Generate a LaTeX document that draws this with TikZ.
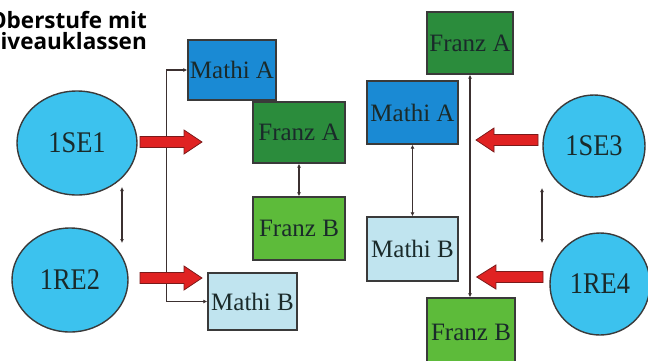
\documentclass[tikz,border=0pt]{standalone}
\usepackage{fontspec}
\setmainfont{Liberation Serif}
\newfontfamily\titlefont{Open Sans}
\usetikzlibrary{arrows.meta,shapes.geometric}
\definecolor{mblue}{HTML}{1A8AD4}
\definecolor{dgreen}{HTML}{2B8C3C}
\definecolor{lgreen}{HTML}{5DBB3A}
\definecolor{lblue}{HTML}{C0E4EF}
\definecolor{cyanfill}{HTML}{3CC2EE}
\definecolor{edge}{HTML}{3A3A3A}
\definecolor{lnk}{HTML}{3B3030}
\definecolor{arrred}{HTML}{E02222}
\definecolor{arrline}{HTML}{7A1A1A}
\definecolor{txt}{HTML}{1A2A2A}
\begin{document}
\begin{tikzpicture}[x=1pt,y=-1pt,
  box/.style={draw=edge,line width=1.4pt,inner sep=0pt,text=txt,
    font=\fontsize{25}{27}\selectfont},
  circ/.style={ellipse,draw=edge,line width=1.4pt,fill=cyanfill,inner sep=0pt,text=txt,
    font=\fontsize{30}{32}\selectfont},
  link/.style={draw=lnk,line width=1.3pt,{Latex[length=4pt,width=4pt]}-{Latex[length=4pt,width=4pt]}},
  title/.style={font=\titlefont\bfseries\fontsize{22.5}{24}\selectfont,inner sep=0pt,anchor=base east},
  fatarrow/.pic={\draw[fill=arrred,draw=arrline,line width=0.8pt]
    (0,-5.5) -- (44,-5.5) -- (44,-12) -- (62,0) -- (44,12) -- (44,5.5) -- (0,5.5) -- cycle;}
]
\useasboundingbox (0,0) rectangle (648,360);
\fill[white] (0,0) rectangle (648,360);
% title
\node[title] (t1) at (147,28) {Oberstufe mit};
\node[title] (t2) at (147,49) {Niveauklassen};
% circles
\node[circ,minimum width=120pt,minimum height=104pt] (e1) at (77,143) {\scalebox{0.88}[1]{1SE1}};
\node[circ,minimum width=116pt,minimum height=104pt] (e2) at (70,280) {\scalebox{0.88}[1]{1RE2}};
\node[circ,minimum width=102pt,minimum height=102pt] (e3) at (594,146) {\scalebox{0.88}[1]{1SE3}};
\node[circ,minimum width=100pt,minimum height=102pt] (e4) at (600,284) {\scalebox{0.88}[1]{1RE4}};
% left boxes
\node[box,fill=mblue,minimum width=88pt,minimum height=60pt] (lmA) at (232,70) {Mathi A};
\node[box,fill=dgreen,minimum width=92pt,minimum height=61pt] (lfA) at (299,132.5) {Franz A};
\node[box,fill=lgreen,minimum width=92pt,minimum height=63pt] (lfB) at (299,228.5) {Franz B};
\node[box,fill=lblue,minimum width=89pt,minimum height=57pt] (lmB) at (252.5,301.5) {Mathi B};
% right boxes
\node[box,fill=dgreen,minimum width=86pt,minimum height=62pt] (rfA) at (470,43) {Franz A};
\node[box,fill=mblue,minimum width=91pt,minimum height=63pt] (rmA) at (412.5,112.5) {Mathi A};
\node[box,fill=lblue,minimum width=91pt,minimum height=64pt] (rmB) at (412.5,249) {Mathi B};
\node[box,fill=lgreen,minimum width=88pt,minimum height=68pt] (rfB) at (471,332) {Franz B};
% connectors
\draw[link] (lmA.west) -- ++(-21,0) |- (lmB.west);
\draw[link] (lfA.south) -- (lfB.north);
\draw[link] (rfA.south) -- (rfB.north -| rfA.south);
\draw[link] (rmA.south) -- (rmB.north);
\coordinate (c1) at (122,187); \coordinate (c2) at (122,243);
\coordinate (c3) at (542,188); \coordinate (c4) at (542,243);
\draw[link] (c1) -- (c2);
\draw[link] (c3) -- (c4);
% red arrows
\coordinate (r1) at (140,142);
\coordinate (r2) at (140,278);
\coordinate (r3) at (538,140);
\coordinate (r4) at (543,277);
\pic at (r1) {fatarrow};
\pic at (r2) {fatarrow};
\pic[xscale=-1] at (r3) {fatarrow};
\pic[xscale=-1,x=1.07pt] at (r4) {fatarrow};
\end{tikzpicture}
\end{document}
